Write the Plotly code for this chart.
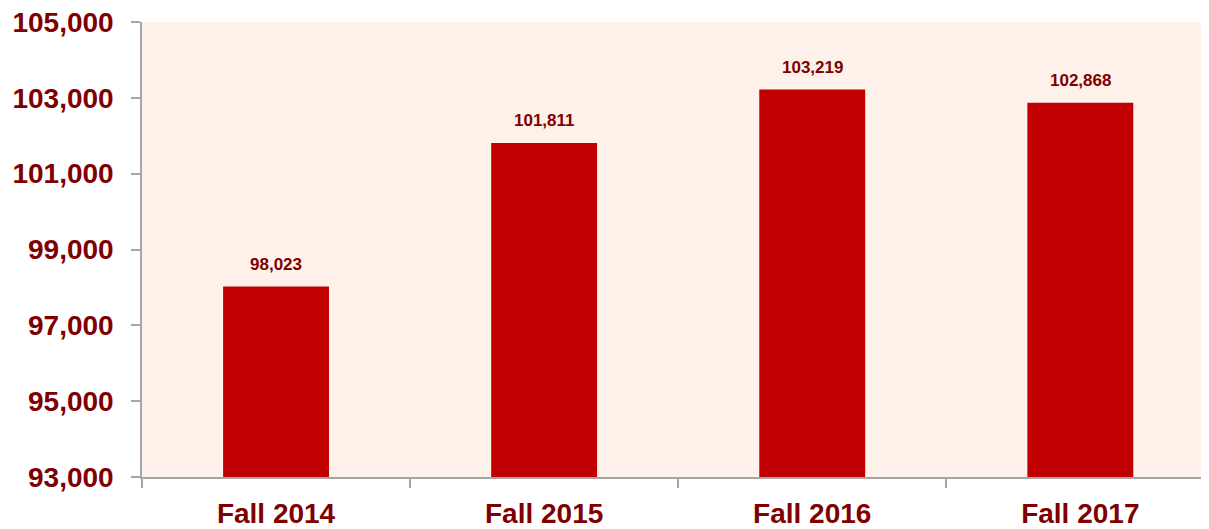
import plotly.graph_objects as go

categories = ["Fall 2014", "Fall 2015", "Fall 2016", "Fall 2017"]
values = [98023, 101811, 103219, 102868]
value_labels = ["98,023", "101,811", "103,219", "102,868"]
y_ticks = [93000, 95000, 97000, 99000, 101000, 103000, 105000]
y_tick_labels = ["93,000", "95,000", "97,000", "99,000", "101,000", "103,000", "105,000"]

BAR = "#C00000"
TXT = "#7F0000"
BG = "#FDF1E9"
AXIS = "#A6A6A6"
FONT = "Liberation Sans, Arial, sans-serif"

fig = go.Figure()
fig.add_trace(go.Bar(
    x=categories, y=values, marker=dict(color=BAR, line=dict(width=0)),
    width=0.395, hoverinfo="skip",
))
for c, v, t in zip(categories, values, value_labels):
    fig.add_annotation(x=c, y=v, text="<b>%s</b>" % t, showarrow=False,
                       yanchor="bottom", yshift=11,
                       font=dict(family=FONT, size=17, color=TXT))

# page body has an 8px margin, so the figure is 8px smaller than the window
fig.update_layout(
    width=1201, height=521,
    margin=dict(l=134, r=0, t=14, b=52),
    paper_bgcolor="white", plot_bgcolor=BG,
    showlegend=False, bargap=0.6,
    font=dict(family=FONT, color=TXT),
)
fig.update_xaxes(
    type="category", range=[-0.5, 3.48], automargin=False,
    showline=True, linecolor=AXIS, linewidth=1.5,
    ticks="outside", tickson="boundaries", ticklen=9, tickcolor=AXIS, tickwidth=1.5,
    tickfont=dict(family=FONT, size=28, color=TXT),
    tickvals=categories, ticktext=["<b>%s</b>" % c for c in categories],
    showgrid=False, zeroline=False, ticklabelstandoff=11, ticklabeloverflow="allow",
)
fig.update_yaxes(
    range=[93000, 105000], automargin=False,
    tickvals=y_ticks, ticktext=["<b>%s</b>" % t for t in y_tick_labels],
    showline=True, linecolor=AXIS, linewidth=1.5,
    ticks="outside", ticklen=9, tickcolor=AXIS, tickwidth=1.5,
    tickfont=dict(family=FONT, size=28, color=TXT),
    showgrid=False, zeroline=False, ticklabelstandoff=12, ticklabeloverflow="allow",
)
fig.write_html("out.html")
